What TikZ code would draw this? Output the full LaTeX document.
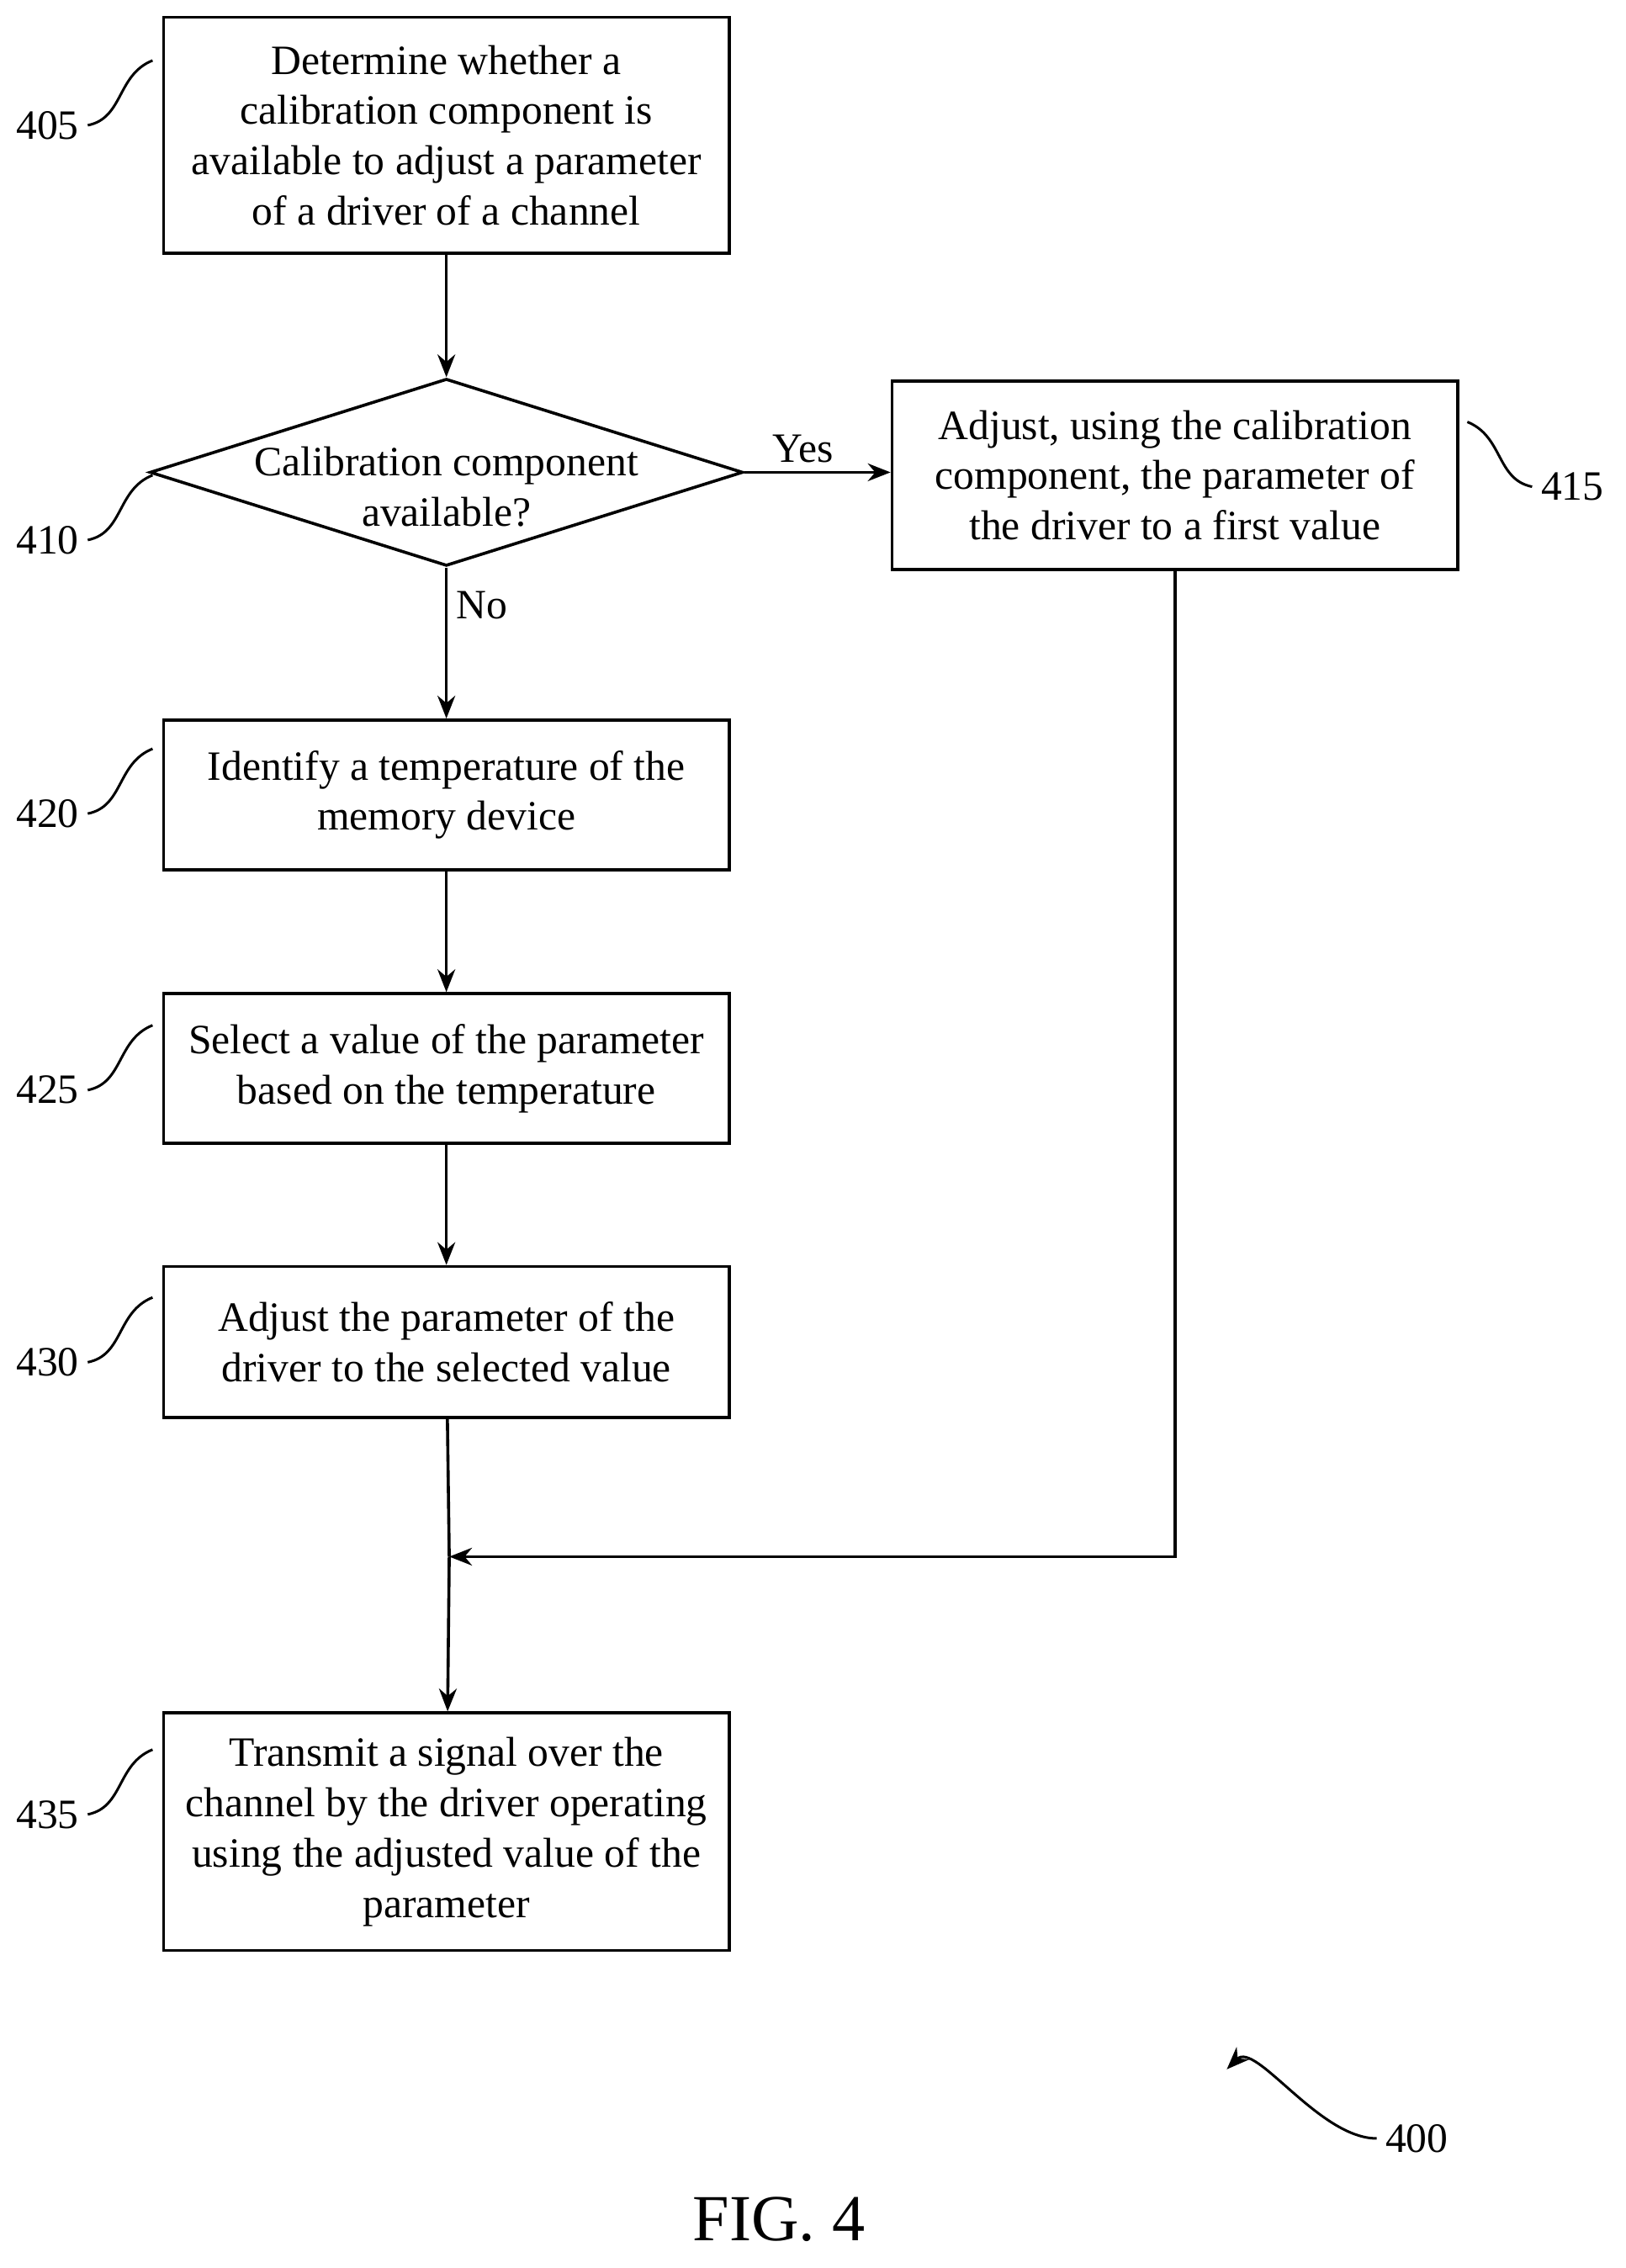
\documentclass[tikz,border=0pt]{standalone}
\usepackage{fontspec}
\setmainfont{Liberation Serif}
\usetikzlibrary{shapes.geometric,arrows.meta}
\begin{document}
\begin{tikzpicture}[x=0.02cm,y=-0.02cm,
    box/.style={draw,line width=1.2pt,minimum width=7.86cm,align=center,inner sep=0pt,
      font=\fontsize{16.5}{19.9}\selectfont},
    txt/.style={font=\fontsize{16.5}{19.9}\selectfont,align=center},
    flow/.style={line width=1.2pt,-{Stealth[length=9pt,width=7pt]}},
    squig/.style={line width=1pt}]
    \useasboundingbox (0,0) rectangle (1129,1575);
    % process boxes
    \node[box,minimum height=3.28cm] (s405) at (310,94) {Determine whether a\\calibration component is\\available to adjust a parameter\\of a driver of a channel};
    \node[draw,diamond,line width=1.2pt,minimum width=8.24cm,minimum height=2.6cm,inner sep=0pt] (s410) at (310,328) {};
    \node[txt] (t410) at (310,338) {Calibration component\\available?};
    \node[box,minimum height=2.62cm] (s415) at (816,330) {Adjust, using the calibration\\component, the parameter of\\the driver to a first value};
    \node[box,minimum height=2.08cm] (s420) at (310,552) {Identify a temperature of the\\memory device};
    \node[box,minimum height=2.08cm] (s425) at (310,742) {Select a value of the parameter\\based on the temperature};
    \node[box,minimum height=2.1cm] (s430) at (310,932) {Adjust the parameter of the\\driver to the selected value};
    \node[box,minimum height=3.3cm] (s435) at (310,1272) {Transmit a signal over the\\channel by the driver operating\\using the adjusted value of the\\parameter};
    \coordinate (merge) at (312,1081);
    % connectors
    \draw[flow] (s405) -- (s410);
    \draw[flow] (s410) -- (s420) node[pos=0.25,right,txt] {No};
    \draw[flow] (s410.east) -- (s415.west |- s410.east) node[pos=0.4,above,txt] {Yes};
    \draw[flow] (s420) -- (s425);
    \draw[flow] (s425) -- (s430);
    \draw[line width=1.2pt] (s430) -- (merge);
    \draw[flow] (s415.south) |- (merge);
    \draw[flow] (merge) -- (s435);
    % reference numerals
    \node[txt] (n405) at (33,87) {405};
    \node[txt] (n410) at (33,375) {410};
    \node[txt] (n415) at (1092,338) {415};
    \node[txt] (n420) at (33,565) {420};
    \node[txt] (n425) at (33,757) {425};
    \node[txt] (n430) at (33,946) {430};
    \node[txt] (n435) at (33,1260) {435};
    \node[txt] (n400) at (984,1485) {400};
    \draw[squig] (n405.east) .. controls +(25,-5) and +(-25,10) .. ++(45,-45);
    \draw[squig] (n410.east) .. controls +(25,-5) and +(-25,10) .. ++(45,-45);
    \draw[squig] (n420.east) .. controls +(25,-5) and +(-25,10) .. ++(45,-45);
    \draw[squig] (n425.east) .. controls +(25,-5) and +(-25,10) .. ++(45,-45);
    \draw[squig] (n430.east) .. controls +(25,-5) and +(-25,10) .. ++(45,-45);
    \draw[squig] (n435.east) .. controls +(25,-5) and +(-25,10) .. ++(45,-45);
    \draw[squig] (n415.west) .. controls +(-25,-5) and +(25,10) .. ++(-45,-45);
    \draw[line width=1pt,-{Stealth[length=9pt,width=7pt]}] (n400.west) .. controls +(-40,0) and +(20,-20) .. (852,1437);
    \node[font=\fontsize{26}{30}\selectfont] (fig) at (541,1541) {FIG. 4};
\end{tikzpicture}
\end{document}
